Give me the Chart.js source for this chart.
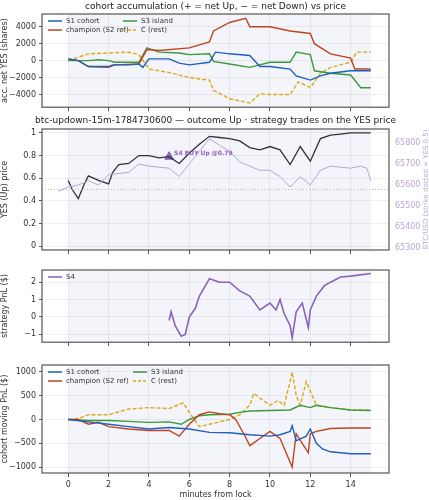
<!DOCTYPE html>
<html><head><meta charset="utf-8">
<script src="https://cdn.jsdelivr.net/npm/chart.js@4"></script>
<style>body{margin:0;background:#fff;width:429px;height:500px;position:relative;overflow:hidden}canvas{position:absolute;left:0}</style>
</head><body>
<div id="w1" style="position:absolute;left:0;top:0;width:429px;height:115px"><canvas id="c1"></canvas></div>
<div id="w2" style="position:absolute;left:0;top:115px;width:429px;height:145px"><canvas id="c2"></canvas></div>
<div id="w3" style="position:absolute;left:0;top:260px;width:429px;height:90px"><canvas id="c3"></canvas></div>
<div id="w4" style="position:absolute;left:0;top:350px;width:429px;height:150px"><canvas id="c4"></canvas></div>
<script>
// ---- data ----
const accS1T=[0,0.5,1,2,2.2,3,3.5,3.7,4,5,5.5,6,7,7.3,8,9,9.5,10,11,11.3,12,12.5,13,14,15];
const accS1=[200,0,-700,-700,-500,-500,-400,-800,200,200,-300,-500,-200,1000,800,600,-700,-700,-1000,-1800,-2300,-1800,-1500,-1200,-1200];
const accChT=[0,0.5,1,2,2.3,3.5,3.9,4.5,6,7,7.2,8,8.8,9,10,11,12,12.2,13,14,14.2,15];
const accCh=[200,0,-700,-800,-500,-400,1300,1200,1500,2200,3500,4500,5000,4000,4000,3500,3200,2000,800,300,-1000,-1000];
const accS3T=[0,1,1.5,2,2.3,3.5,3.9,4.5,5.5,6,7,7.2,8,9,10,11,11.3,12,12.2,13,14,14.5,15];
const accS3=[0,0,100,0,-200,-200,1500,1000,900,700,800,-100,-400,-800,-200,-200,1000,700,-1200,-1500,-1700,-3200,-3200];
const accCT=[0,1,2,3,3.5,3.8,4,5,6,7,7.2,8,9,9.5,10,11,11.4,12,12.5,13,14,14.3,15];
const accC=[0,800,900,1000,700,-300,-1000,-1400,-2000,-2300,-3500,-4500,-5000,-3900,-4000,-4000,-2500,-3200,-1500,-800,-200,1000,1000];
const yesT=[0,0.2,0.5,0.8,1,1.5,2,2.2,2.5,3,3.5,4,4.5,5,5.5,6,6.5,7,7.5,8,8.5,9,9.5,10,10.5,11,11.5,12,12.5,13,13.5,14,15];
const yes=[0.58,0.5,0.42,0.55,0.62,0.58,0.55,0.65,0.72,0.73,0.8,0.8,0.78,0.79,0.73,0.82,0.9,0.97,0.96,0.95,0.93,0.87,0.85,0.88,0.85,0.72,0.88,0.75,0.95,0.98,0.99,1.0,1.0];
const btcT=[-0.5,0,0.5,1,1.5,2,3,3.5,4,5,5.5,6,6.5,7,7.5,8,8.5,9,9.5,10,10.5,11,11.5,12,12.5,13,14,14.5,14.8,15];
const btc=[65570,65590,65600,65620,65600,65650,65660,65700,65690,65680,65640,65700,65760,65820,65790,65760,65710,65690,65670,65670,65640,65590,65640,65600,65670,65690,65680,65690,65680,65620];
const s4T=[5,5.1,5.3,5.6,5.8,6,6.3,6.5,6.8,7,7.5,8,8.5,9,9.5,10,10.3,10.5,10.7,11,11.1,11.3,11.6,11.9,12,12.3,12.7,13,13.5,14,15];
const s4=[-0.2,0.3,-0.5,-1.1,-1.0,0.0,0.5,1.2,1.8,2.2,2.0,2.0,1.5,1.2,0.4,0.8,0.4,1.0,0.2,-0.5,-1.2,0.3,0.8,-0.6,0.4,1.2,1.8,2.0,2.3,2.35,2.5];
const pS1T=[0,1,2,3,4,5,6,7,8,9,10,10.5,11,11.1,11.3,11.8,12,12.3,12.6,13,14,15];
const pS1=[0,-50,-100,-150,-200,-170,-200,-270,-280,-320,-350,-320,-250,-130,-450,-350,-200,-500,-620,-680,-720,-720];
const pChT=[0,0.5,1,1.5,2,3,4,5,5.5,6,6.5,7,7.5,8,8.3,8.7,9,9.5,10,10.5,11,11.1,11.3,11.6,11.9,12,12.3,13,14,15];
const pCh=[0,0,-100,-60,-150,-200,-230,-230,-350,-100,100,160,120,100,0,-300,-550,-400,-250,-400,-900,-1000,-300,-500,-700,-300,-250,-190,-180,-180];
const pS3T=[0,1,2,3,4,5,5.6,6,6.5,7,8,8.5,9,10,11,11.5,12,12.3,13,14,15];
const pS3=[0,-20,-20,-40,-60,-50,-100,0,80,100,110,150,180,190,200,300,250,300,250,200,190];
const pCT=[0,0.5,1,2,3,4,5,5.7,6,6.5,7,8,8.5,9,9.2,9.5,10,10.4,10.7,11,11.1,11.3,11.5,11.8,12,12.3,13,14,15];
const pC=[0,20,100,100,220,250,230,350,150,-150,-100,0,100,300,550,450,300,400,300,800,1000,500,300,800,600,300,250,200,200];
const xTicks=[0,2,4,6,8,10,12,14];
const trade={t:5,p:0.79,label:'S4 BUY Up @0.79'};

const pts=(t,v)=>t.map((x,i)=>({x,y:v[i]}));
const F='DejaVu Sans';
Chart.defaults.font.family=F;Chart.defaults.font.size=8;Chart.defaults.color='#333';
Chart.defaults.animation=false;
const COL={s1:'#1f5fbf',ch:'#bf4420',s3:'#3a9a3a',c:'#e0a817',s4:'#8a62b8',btc:'#b9a5da'};
const XMIN=-1.3,XMAX=15.9;
const bgPlug={id:'bg',beforeDraw(c){const a=c.chartArea,x=c.scales.x,g=c.ctx;g.save();g.fillStyle='#f3f5fa';const l=x.getPixelForValue(0),r=x.getPixelForValue(15);g.fillRect(l,a.top,r-l,a.bottom-a.top);g.restore();},
 afterDraw(c){const a=c.chartArea,g=c.ctx;g.save();g.strokeStyle='#555';g.lineWidth=1.2;g.strokeRect(a.left,a.top,a.right-a.left,a.bottom-a.top);
 const o=c.options.plugins.extra||{};
 if(o.title){g.fillStyle='#222';g.font='9px '+F;g.textAlign='center';g.textBaseline='middle';g.fillText(o.title,(a.left+a.right)/2,o.titleY);}
 if(o.rtitle){g.save();g.translate(a.right+37,(a.top+a.bottom)/2);g.rotate(-Math.PI/2);g.fillStyle=COL.btc;g.font='7px '+F;g.textAlign='center';g.textBaseline='middle';g.fillText(o.rtitle,0,0);g.restore();}
 if(o.legend){g.font='7px '+F;g.textBaseline='middle';g.textAlign='left';o.legend.forEach((it,i)=>{const col=i%2,row=Math.floor(i/2);const x0=a.left+6+col*(o.colW||80),y0=a.top+7+row*9;g.strokeStyle=it.c;g.lineWidth=1.5;g.setLineDash(it.d?[3,2]:[]);g.beginPath();g.moveTo(x0,y0);g.lineTo(x0+14,y0);g.stroke();g.setLineDash([]);g.fillStyle='#333';g.fillText(it.t,x0+18,y0);});}
 if(o.annot){const p=c.scales.x.getPixelForValue(o.annot.t)+5,q=c.scales.y.getPixelForValue(o.annot.p);g.fillStyle=COL.s4;g.font='bold 6px '+F;g.textBaseline='middle';g.textAlign='left';g.fillText(o.annot.label,p,q-3);}
 g.restore();}};
function xs(showLabels,h){return {type:'linear',min:XMIN,max:XMAX,afterBuildTicks:s=>{s.ticks=xTicks.map(v=>({value:v}));},
 ticks:{display:showLabels,font:{size:8}},grid:{color:'rgba(0,0,0,0.06)',tickColor:'#555',tickLength:4,drawTicks:true},border:{display:false},
 title:{display:showLabels,text:'minutes from lock',font:{size:8},padding:0},afterFit:s=>{s.height=h;}};}
function ys(min,max,ticks,title,w){return {min,max,afterBuildTicks:s=>{s.ticks=ticks.map(v=>({value:v}));},
 ticks:{font:{size:8},callback:v=>String(v).replace('-','\u2212')},grid:{color:'rgba(0,0,0,0.06)',tickColor:'#555',tickLength:3},border:{display:false},
 title:{display:true,text:title,font:{size:8},padding:0},afterFit:s=>{s.width=w;}};}
function line(d,c,dash,w){return {data:d,borderColor:c,borderWidth:w||1.4,borderDash:dash?[4,2]:[],pointRadius:0,stepped:false,tension:0,fill:false};}

// panel 1
new Chart(c1,{type:'line',data:{datasets:[line(pts(accS1T,accS1),COL.s1),line(pts(accChT,accCh),COL.ch),line(pts(accS3T,accS3),COL.s3),line(pts(accCT,accC),COL.c,true)]},
 options:{responsive:true,maintainAspectRatio:false,layout:{padding:{top:14,right:40,left:0,bottom:0}},
 plugins:{legend:{display:false},tooltip:{enabled:false},extra:{title:'cohort accumulation (+ = net Up, \u2212 = net Down) vs price',titleY:7,colW:75,legend:[{t:'S1 cohort',c:COL.s1},{t:'S3 island',c:COL.s3},{t:'champion (S2 ref)',c:COL.ch},{t:'C (rest)',c:COL.c,d:1}]}},
 scales:{x:xs(false,7),y:ys(-5500,5500,[-4000,-2000,0,2000,4000],'acc. net YES (shares)',42)}},plugins:[bgPlug]});
// panel 2
new Chart(c2,{type:'line',data:{datasets:[
 {type:'line',data:[{x:XMIN,y:0.5},{x:XMAX,y:0.5}],borderColor:'#aaa',borderWidth:0.8,borderDash:[1,2],pointRadius:0,yAxisID:'y'},
 {...line(pts(btcT,btc),COL.btc,false,1),yAxisID:'y2'},
 {...line(pts(yesT,yes),'#333',false,1.3),yAxisID:'y'},
 {type:'scatter',data:[{x:trade.t,y:trade.p}],pointStyle:'triangle',pointRadius:5,backgroundColor:COL.s4,borderColor:COL.s4,yAxisID:'y'}]},
 options:{responsive:true,maintainAspectRatio:false,layout:{padding:{top:14,right:0,left:0,bottom:0}},
 plugins:{legend:{display:false},tooltip:{enabled:false},extra:{title:'btc-updown-15m-1784730600 \u2014 outcome Up \u00b7 strategy trades on the YES price',titleY:6,annot:trade,rtitle:'BTC/USD (strike dotted = YES 0.5)'}},
 scales:{x:xs(false,10),y:ys(-0.035,1.035,[0,0.2,0.4,0.6,0.8,1.0],'YES (Up) price',42),
 y2:{position:'right',min:65290,max:65867,afterBuildTicks:s=>{s.ticks=[65300,65400,65500,65600,65700,65800].map(v=>({value:v}));},ticks:{color:COL.btc,font:{size:8},callback:v=>String(v)},grid:{display:false,tickColor:COL.btc,tickLength:3},border:{display:false},
 title:{display:false},afterFit:s=>{s.width=40;}}}},plugins:[bgPlug]});
// panel 3
new Chart(c3,{type:'line',data:{datasets:[line(pts(s4T,s4),COL.s4,false,1.6)]},
 options:{responsive:true,maintainAspectRatio:false,layout:{padding:{top:10,right:40,left:0,bottom:0}},
 plugins:{legend:{display:false},tooltip:{enabled:false},extra:{legend:[{t:'S4',c:COL.s4}]}},
 scales:{x:xs(false,5),y:ys(-1.45,2.7,[-1,0,1,2],'strategy PnL ($)',42)}},plugins:[bgPlug]});
// panel 4
new Chart(c4,{type:'line',data:{datasets:[line(pts(pS1T,pS1),COL.s1),line(pts(pChT,pCh),COL.ch),line(pts(pS3T,pS3),COL.s3),line(pts(pCT,pC),COL.c,true)]},
 options:{responsive:true,maintainAspectRatio:false,layout:{padding:{top:15,right:40,left:0,bottom:0}},
 plugins:{legend:{display:false},tooltip:{enabled:false},extra:{colW:85,legend:[{t:'S1 cohort',c:COL.s1},{t:'S3 island',c:COL.s3},{t:'champion (S2 ref)',c:COL.ch},{t:'C (rest)',c:COL.c,d:1}]}},
 scales:{x:xs(true,27),y:ys(-1126,1147,[-1000,-500,0,500,1000],'cohort moving PnL ($)',42)}},plugins:[bgPlug]});
</script></body></html>
